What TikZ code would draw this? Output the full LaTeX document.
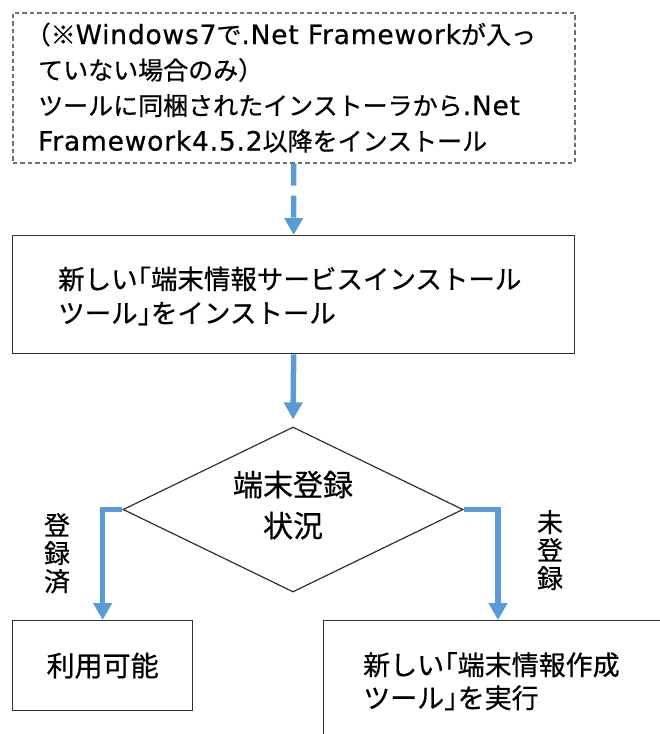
\documentclass[tikz,border=0pt]{standalone}
\usepackage{fontspec}
\setmainfont[FakeBold=0.6]{Noto Sans CJK JP}
\newfontfamily\lat[Scale=1.06,LetterSpace=3,FakeBold=0.6]{DejaVu Sans}
\newfontfamily\halfp[RawFeature=+halt,FakeBold=0.6]{Noto Sans CJK JP}
\usetikzlibrary{arrows.meta,shapes.geometric}
\definecolor{flowblue}{HTML}{5B9BD5}
\definecolor{framegray}{HTML}{707070}
\definecolor{boxline}{HTML}{303030}
\tikzset{
  frame/.style={draw=boxline, line width=1.3pt, inner sep=0pt, anchor=north west},
  flow/.style={draw=flowblue, line width=5.5pt, -{Triangle[length=17pt,width=18pt]}},
  lbl/.style={inner sep=0pt, align=left},
}
\begin{document}
\begin{tikzpicture}[x=1pt,y=-1pt]
\useasboundingbox (0,0) rectangle (660,734);
\clip (0,0) rectangle (660,734);
% top dashed box
\node[frame, draw=framegray, dash pattern=on 4.5pt off 3pt, line width=1.5pt, minimum width=562pt, minimum height=150pt] (pre) at (12,12) {};
\node[lbl, anchor=base west, font=\fontsize{25}{35.5}\selectfont] (pretxt) at (38,150.5) {{\halfp （}※{\lat Windows7}で{\lat .Net Framework}が入っ\\ていない場合のみ）\\ツールに同梱されたインストーラから{\lat .Net}\\{\lat Framework4.5.2}以降をインストール};
% install box
\node[frame, minimum width=562pt, minimum height=118pt] (inst) at (12,235) {};
\node[lbl, anchor=base west, font=\fontsize{26.5}{34}\selectfont] (insttxt) at (58,323) {新しい{\halfp 「}端末情報サービスインストール\\ツール{\halfp 」}をインストール};
% decision
\node[draw=boxline, line width=1.2pt, diamond, minimum width=340pt, minimum height=165pt, inner sep=0pt] (dec) at (293,509.5) {};
\node[lbl, align=center, anchor=base, font=\fontsize{30}{41}\selectfont] (dectxt) at (293,537) {端末登録\\状況};
% results
\node[frame, minimum width=180pt, minimum height=90pt, font=\fontsize{28}{34}\selectfont] (avail) at (12,620) {利用可能};
\node[frame, minimum width=400pt, minimum height=150pt] (newtool) at (323,620) {};
\node[lbl, anchor=base west, font=\fontsize{27}{33}\selectfont] (newtxt) at (363,708) {新しい{\halfp 「}端末情報作成\\ツール{\halfp 」}を実行};
\coordinate (rin) at (498,620);
% connectors
\draw[flow, dash pattern=on 22pt off 10pt] (pre.south) -- (inst.north);
\draw[flow, shorten >=7pt] (inst.south) -- (dec.north);
\draw[flow] (dec.west) -| (avail.north);
\draw[flow] (dec.east) -| (rin);
% branch labels
\node[lbl, align=center, anchor=base, font=\fontsize{26}{28}\selectfont] (yes) at (57,591) {登\\録\\済};
\node[lbl, align=center, anchor=base, font=\fontsize{26}{28}\selectfont] (no) at (550,588) {未\\登\\録};
\end{tikzpicture}
\end{document}
